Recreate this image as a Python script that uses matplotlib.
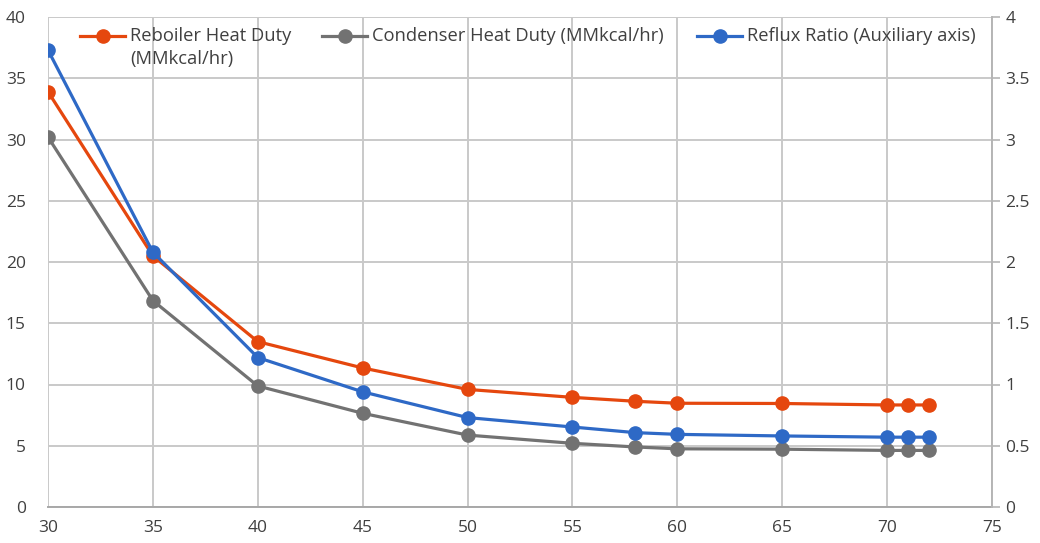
import matplotlib
matplotlib.use("Agg")
import matplotlib.pyplot as plt
from matplotlib.lines import Line2D

plt.rcParams['font.family'] = ['Open Sans', 'DejaVu Sans']

# Number of stages vs. column duties and reflux ratio
stages = [30, 35, 40, 45, 50, 55, 58, 60, 65, 70, 71, 72]
reboiler_duty = [33.9, 20.5, 13.5, 11.35, 9.6, 8.95, 8.63, 8.47, 8.45, 8.33, 8.33, 8.33]
condenser_duty = [30.2, 16.85, 9.88, 7.65, 5.87, 5.2, 4.9, 4.75, 4.72, 4.62, 4.62, 4.62]
reflux_ratio = [3.73, 2.08, 1.22, 0.94, 0.73, 0.653, 0.607, 0.593, 0.58, 0.57, 0.57, 0.57]

x_ticks = [30, 35, 40, 45, 50, 55, 60, 65, 70, 75]
left_ticks = [0, 5, 10, 15, 20, 25, 30, 35, 40]
right_ticks = [0, 0.5, 1, 1.5, 2, 2.5, 3, 3.5, 4]
right_tick_labels = ['0', '0.5', '1', '1.5', '2', '2.5', '3', '3.5', '4']

legend_lines = [['Reboiler Heat Duty', '(MMkcal/hr)'],
                ['Condenser Heat Duty (MMkcal/hr)'],
                ['Reflux Ratio (Auxiliary axis)']]

c_reb = '#E5470E'
c_con = '#727272'
c_ref = '#2E69C6'
grid_c = '#C9C9C9'
text_c = '#404040'

W, H = 1040, 543
fig = plt.figure(figsize=(W / 100, H / 100), dpi=100)
ax = fig.add_axes([48 / W, 1 - 507 / H, 944 / W, 490 / H])
ax2 = ax.twinx()

lw = 2.3
ms = 9.5
ax.plot(stages, reboiler_duty, color=c_reb, lw=lw, marker='o', ms=ms, zorder=3)
ax.plot(stages, condenser_duty, color=c_con, lw=lw, marker='o', ms=ms, zorder=3)
ax2.plot(stages, reflux_ratio, color=c_ref, lw=lw, marker='o', ms=ms, zorder=3)

ax.set_xlim(30, 75)
ax.set_ylim(0, 40)
ax2.set_ylim(0, 4)
ax.set_xticks(x_ticks)
ax.set_yticks(left_ticks)
ax2.set_yticks(right_ticks)
ax2.set_yticklabels(right_tick_labels)

ax.grid(True, color=grid_c, lw=1.4)
ax.set_axisbelow(True)
for s in ['left', 'top', 'right']:
    ax.spines[s].set_visible(False)
    ax2.spines[s].set_visible(False)
ax2.spines['bottom'].set_visible(False)
ax.spines['bottom'].set_color('#A8A8A8')
ax.spines['bottom'].set_linewidth(1.4)
ax2.spines['right'].set_visible(True)
ax2.spines['right'].set_color('#B5B5B5')
ax2.spines['right'].set_linewidth(1.4)

ax.tick_params(axis='x', length=0, pad=9, labelsize=12.5, labelcolor=text_c)
ax.tick_params(axis='y', length=0, pad=16, labelsize=12.5, labelcolor=text_c)
ax2.tick_params(axis='y', length=5.5, width=1.2, color='#B5B5B5', pad=4,
                labelsize=12.5, labelcolor=text_c)

# Legend row across the top of the plot
colors = [c_reb, c_con, c_ref]
starts = [80, 322, 697]
hy = 1 - 35.5 / H
for c, px, lines in zip(colors, starts, legend_lines):
    fig.add_artist(Line2D([px / W, (px + 45) / W], [hy, hy], color=c,
                          lw=lw, transform=fig.transFigure))
    fig.add_artist(Line2D([(px + 22.5) / W], [hy], color=c, marker='o',
                          ms=ms, transform=fig.transFigure))
    for i, line in enumerate(lines):
        fig.text((px + 50) / W, 1 - (41 + 23 * i) / H, line, fontsize=13.2,
                 color=text_c, va='baseline', ha='left')

fig.savefig('out.png', dpi=100)
